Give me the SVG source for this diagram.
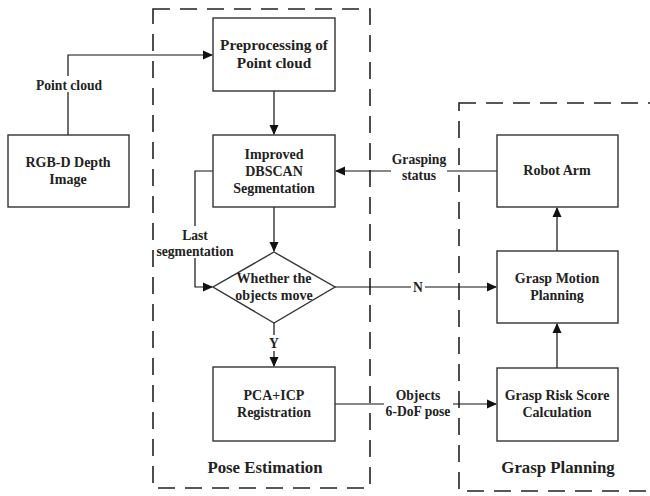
<svg xmlns="http://www.w3.org/2000/svg" width="650" height="496" viewBox="0 0 650 496">
<style>
.box{fill:#fff;stroke:#333;stroke-width:1.4}
.grp{fill:none;stroke:#222;stroke-width:1.6;stroke-dasharray:17 10}
.ln{fill:none;stroke:#111;stroke-width:1.2}
text{font-family:"Liberation Serif","Times New Roman",serif;font-weight:bold;fill:#222;text-anchor:middle}
.t{font-size:14px}
.t15{font-size:15.3px}
.l{font-size:13.6px}
.h{font-size:16.8px}
.bg{fill:#fff}
</style>
<defs>
<marker id="ah" markerWidth="10" markerHeight="10" refX="9" refY="5" orient="auto" markerUnits="userSpaceOnUse">
<path d="M0,0.5 L10,5 L0,9.5 z" fill="#111"/>
</marker>
</defs>
<g id="groups">
<rect class="grp" x="153" y="9" width="217" height="479"/>
<rect class="grp" x="459" y="103" width="210" height="388"/>
</g>
<g id="connectors">
<path class="ln" d="M68,135 V55 H212" marker-end="url(#ah)"/>
<path class="ln" d="M274,91 V134" marker-end="url(#ah)"/>
<path class="ln" d="M274,207 V251" marker-end="url(#ah)"/>
<path class="ln" d="M213,171 H195 V287 H212" marker-end="url(#ah)"/>
<path class="ln" d="M274,323 V366" marker-end="url(#ah)"/>
<path class="ln" d="M497,171 H336" marker-end="url(#ah)"/>
<path class="ln" d="M335,287 H496" marker-end="url(#ah)"/>
<path class="ln" d="M335,404 H496" marker-end="url(#ah)"/>
<path class="ln" d="M557,251 V208" marker-end="url(#ah)"/>
<path class="ln" d="M557,368 V324" marker-end="url(#ah)"/>
</g>
<g id="labels">
<rect class="bg" x="35" y="76" width="68" height="16"/>
<text class="l" x="69" y="90">Point cloud</text>
<rect class="bg" x="181" y="226" width="54" height="32"/>
<text class="l" x="195" y="240">Last</text>
<text class="l" x="195" y="256">segmentation</text>
<rect class="bg" x="391" y="151" width="56" height="31"/>
<text class="l" x="419" y="164">Grasping</text>
<text class="l" x="419" y="180">status</text>
<rect class="bg" x="411" y="279" width="14" height="16"/>
<text class="l" x="418" y="292">N</text>
<rect class="bg" x="268" y="335" width="12" height="16"/>
<text class="l" x="274" y="348">Y</text>
<rect class="bg" x="384" y="386" width="69" height="32"/>
<text class="l" x="418" y="400">Objects</text>
<text class="l" x="418" y="416">6-DoF pose</text>
<text class="h" x="265" y="473">Pose Estimation</text>
<text class="h" x="558" y="473">Grasp Planning</text>
</g>
<g id="rgbd">
<rect class="box" x="8" y="135" width="121" height="72"/>
<text class="t" x="68" y="167">RGB-D Depth</text>
<text class="t" x="68" y="184">Image</text>
</g>
<g id="preprocessing">
<rect class="box" x="213" y="18" width="122" height="73"/>
<text class="t15" x="274" y="50">Preprocessing of</text>
<text class="t15" x="274" y="68">Point cloud</text>
</g>
<g id="dbscan">
<rect class="box" x="213" y="135" width="122" height="72"/>
<text class="t" x="274" y="159">Improved</text>
<text class="t" x="274" y="176">DBSCAN</text>
<text class="t" x="274" y="193">Segmentation</text>
</g>
<g id="decision">
<polygon class="box" points="274,252 335,287 274,323 213,287"/>
<text class="t" x="274" y="283">Whether the</text>
<text class="t" x="274" y="300">objects move</text>
</g>
<g id="pca">
<rect class="box" x="213" y="367" width="122" height="74"/>
<text class="t" x="274" y="400">PCA+ICP</text>
<text class="t" x="274" y="417">Registration</text>
</g>
<g id="robot">
<rect class="box" x="497" y="135" width="121" height="72"/>
<text class="t" x="557" y="175">Robot Arm</text>
</g>
<g id="motion">
<rect class="box" x="497" y="251" width="121" height="72"/>
<text class="t" x="557" y="283">Grasp Motion</text>
<text class="t" x="557" y="300">Planning</text>
</g>
<g id="risk">
<rect class="box" x="497" y="368" width="121" height="73"/>
<text class="t" x="557" y="400">Grasp Risk Score</text>
<text class="t" x="557" y="417">Calculation</text>
</g>
</svg>
